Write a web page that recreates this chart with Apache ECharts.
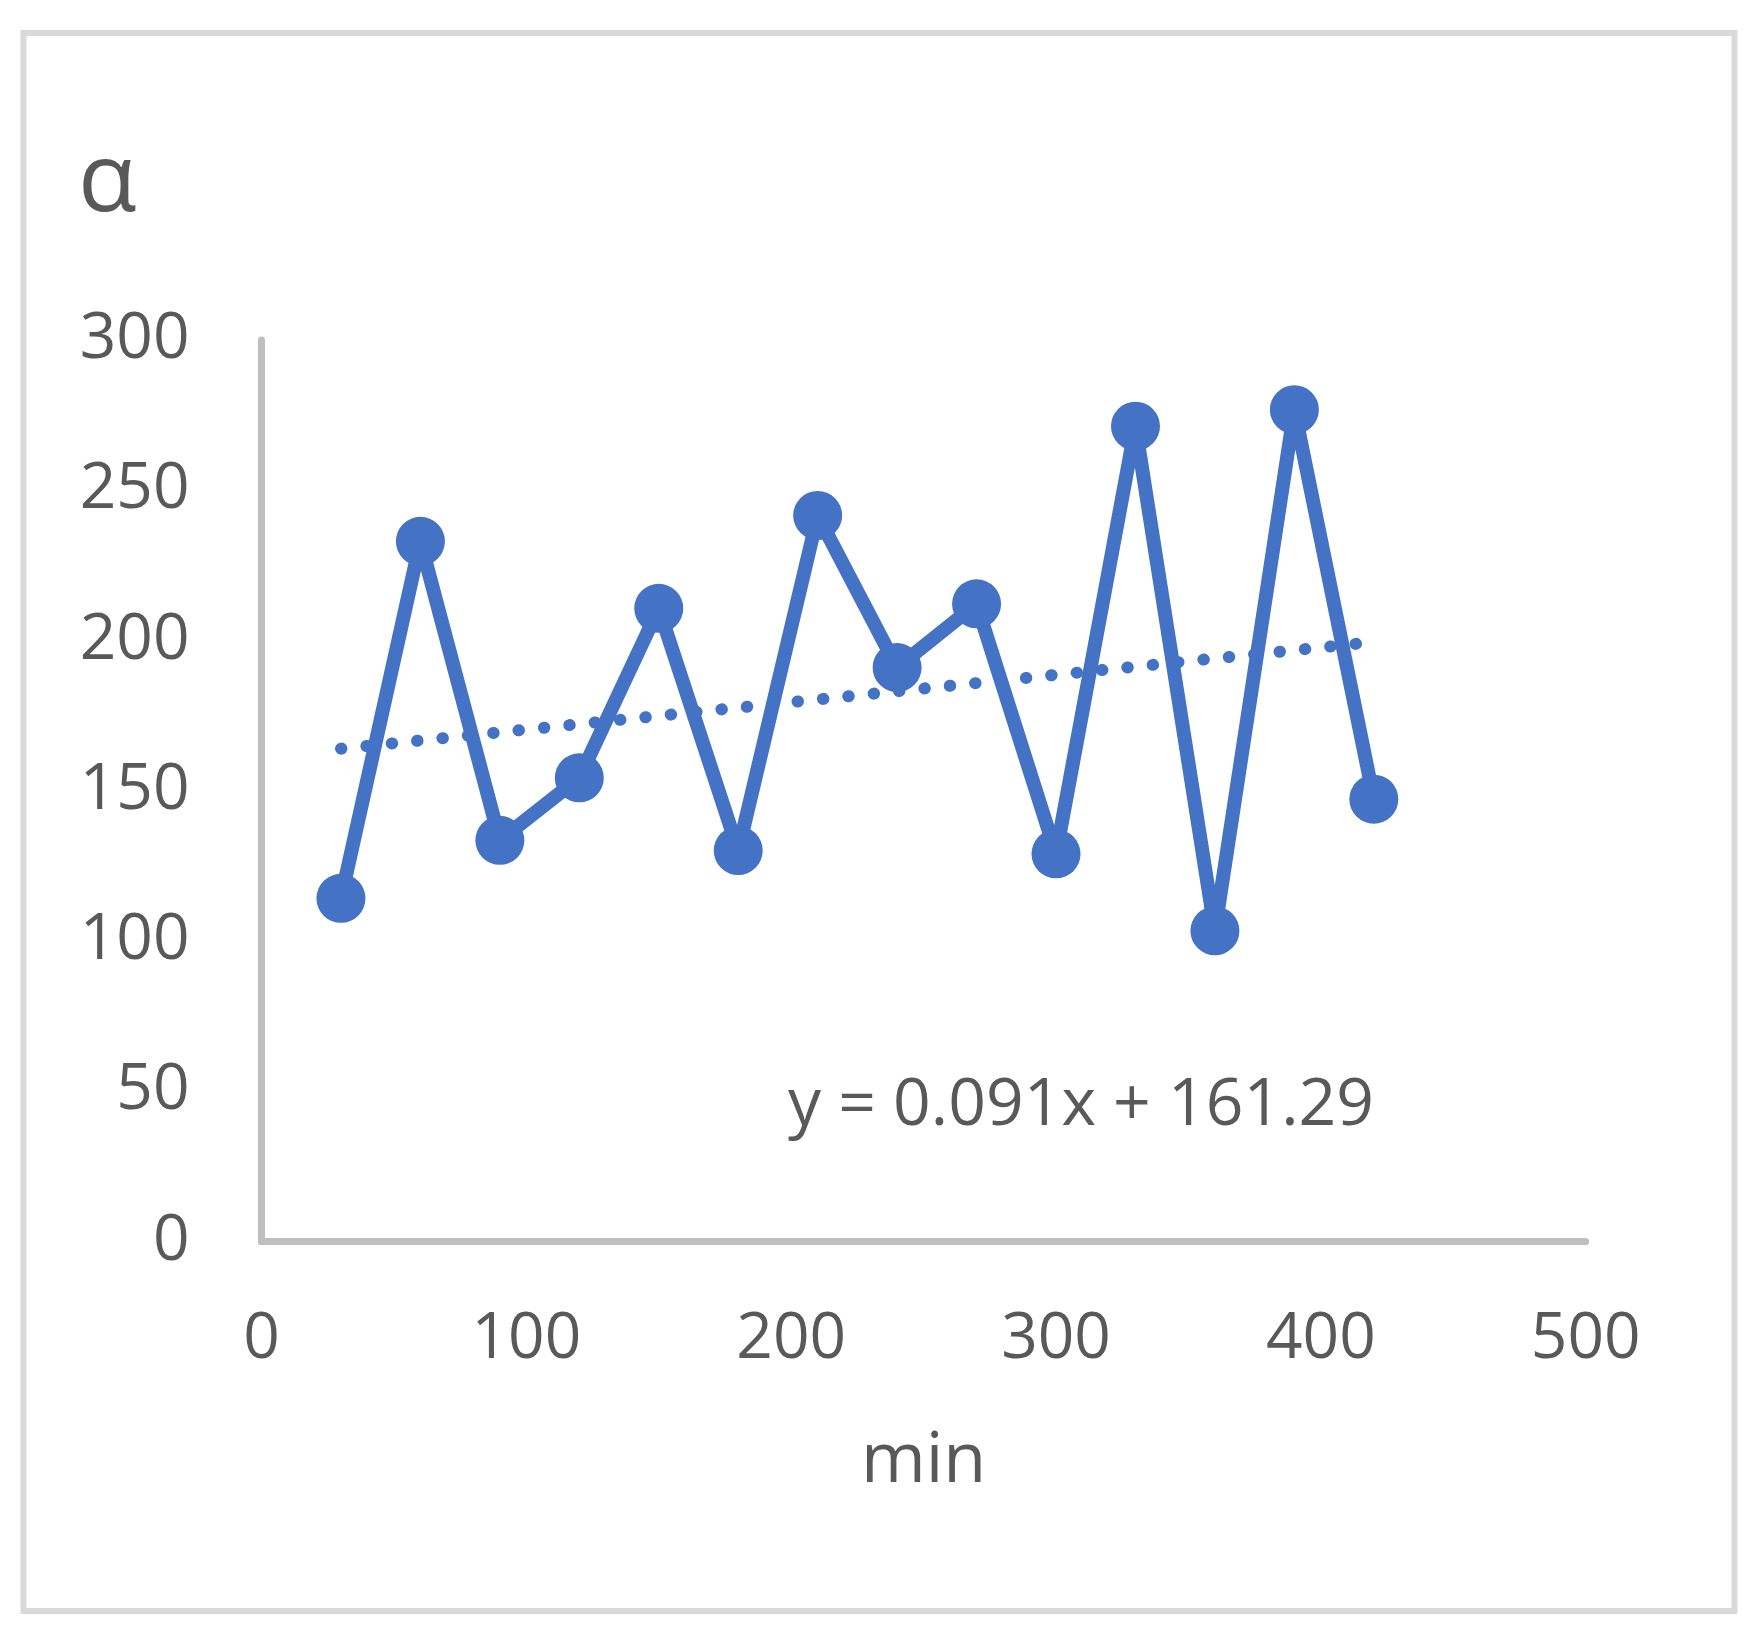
<!DOCTYPE html>
<html>
<head>
<meta charset="utf-8">
<script src="https://cdn.jsdelivr.net/npm/echarts@6/dist/echarts.min.js"></script>
<style>
  html, body { margin: 0; padding: 0; background: #ffffff; }
  #chart { width: 1750px; height: 1631px; }
</style>
</head>
<body>
<div id="chart"></div>
<script>
// Data
const timeMin = [30, 60, 90, 120, 150, 180, 210, 240, 270, 300, 330, 360, 390, 420];
const alphaValues = [114.2, 233.0, 133.5, 154.3, 210.7, 130.1, 241.6, 191.0, 212.2, 129.0, 271.3, 103.4, 276.8, 147.2];
// Linear trendline endpoints (y = 0.091x + 161.29), as drawn in the reference
const trendX = [30, 420];
const trendY = [164.0, 199.5];
const xTicks = [0, 100, 200, 300, 400, 500];
const yTicks = [0, 50, 100, 150, 200, 250, 300];
const equationText = 'y = 0.091x + 161.29';
const xAxisTitle = 'min';
const yAxisTitle = 'α';

const TEXT = '#595959';
const BLUE = '#4472C4';
const FONT = '"Open Sans", "Noto Sans", sans-serif';

const chart = echarts.init(document.getElementById('chart'), null, { renderer: 'canvas' });

const option = {
  backgroundColor: '#ffffff',
  animation: false,
  grid: { left: 261.5, right: 164.3, top: 340, bottom: 389.5, containLabel: false },
  xAxis: {
    type: 'value',
    min: xTicks[0],
    max: xTicks[xTicks.length - 1],
    interval: xTicks[1] - xTicks[0],
    name: xAxisTitle,
    nameLocation: 'middle',
    nameGap: 186,
    nameTextStyle: { color: TEXT, fontSize: 70, fontFamily: FONT },
    axisLine: { show: true, lineStyle: { color: '#BFBFBF', width: 7 } },
    axisTick: { show: false },
    splitLine: { show: false },
    axisLabel: { color: TEXT, fontSize: 64, fontFamily: FONT, margin: 66 }
  },
  yAxis: {
    type: 'value',
    min: yTicks[0],
    max: yTicks[yTicks.length - 1],
    interval: yTicks[1] - yTicks[0],
    axisLine: { show: true, lineStyle: { color: '#BFBFBF', width: 7 } },
    axisTick: { show: false },
    splitLine: { show: false },
    axisLabel: { color: TEXT, fontSize: 64, fontFamily: FONT, margin: 72 }
  },
  graphic: [
    {
      type: 'rect',
      shape: { x: 23.5, y: 33, width: 1711, height: 1578 },
      style: { fill: null, stroke: '#D9D9D9', lineWidth: 6 },
      silent: true, z: -10
    },
    {
      type: 'text',
      style: { x: 78, y: 184, text: yAxisTitle, font: '96px ' + FONT, fill: TEXT, textAlign: 'left', textVerticalAlign: 'middle' },
      silent: true
    },
    {
      type: 'text',
      style: { x: 788, y: 1106, text: equationText, font: '66px ' + FONT, fill: TEXT, textAlign: 'left', textVerticalAlign: 'middle' },
      silent: true
    }
  ],
  series: [
    {
      name: 'trend',
      type: 'line',
      data: trendX.map((x, i) => [x, trendY[i]]),
      symbol: 'none',
      lineStyle: { color: BLUE, width: 12, type: [0.5, 25], cap: 'round' },
      z: 3
    },
    {
      name: 'alpha',
      type: 'line',
      data: timeMin.map((x, i) => [x, alphaValues[i]]),
      symbol: 'circle',
      symbolSize: 49,
      itemStyle: { color: BLUE },
      lineStyle: { color: BLUE, width: 14 },
      z: 2
    }
  ]
};

chart.setOption(option);
</script>
</body>
</html>
